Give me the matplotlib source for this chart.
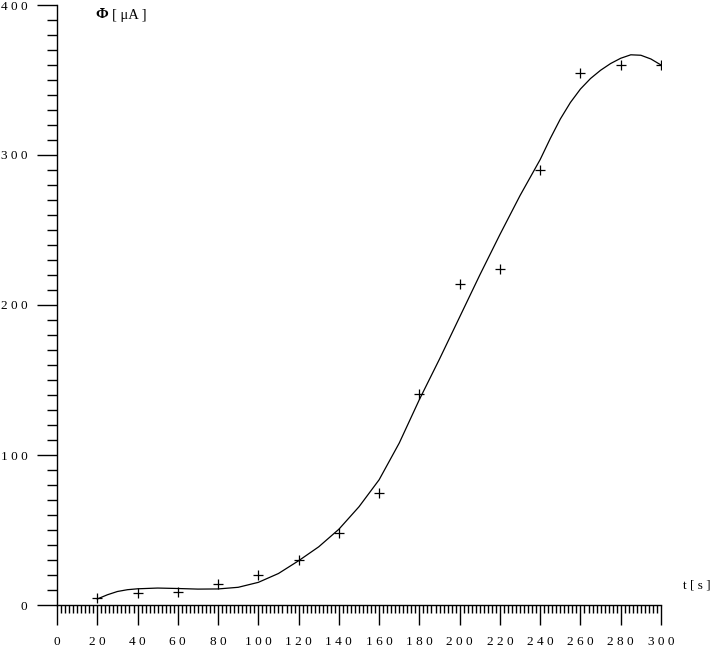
import matplotlib
matplotlib.use("Agg")
import matplotlib.pyplot as plt
from matplotlib.ticker import MultipleLocator, FuncFormatter

# measured points
t_meas = [20, 40, 60, 80, 100, 120, 140, 160, 180, 200, 220, 240, 260, 280, 300]
phi_meas = [5, 8, 9, 14, 20, 30, 48, 75, 141, 214, 224, 290, 355, 360, 360]

# fitted curve
t_fit = [20, 25, 30, 35, 40, 50, 60, 70, 80, 90, 100, 110, 120, 130, 140, 150, 160,
         170, 180, 190, 200, 210, 220, 230, 240, 245, 250, 255, 260, 265, 270, 275,
         280, 285, 290, 295, 300]
phi_fit = [4, 6.8, 9, 10.2, 10.8, 11.3, 11, 10.6, 10.7, 11.8, 15.1, 21, 29.5, 38.8, 50.5,
           65.5, 83.5, 108, 137, 164, 192, 220, 247, 273, 297, 311, 324, 335, 344, 351,
           356.5, 361, 364.5, 366.8, 366.5, 364, 360]

FONT = "Liberation Serif"
FS = 9.5

fig = plt.figure(figsize=(7.13, 6.61), dpi=100)
ax = fig.add_axes([57 / 713, 1 - 605 / 661, (661 - 57) / 713, 600 / 661])

ax.plot(t_fit, phi_fit, color="black", lw=0.9)
ax.plot(t_meas, phi_meas, "+", color="black", ms=7, mew=0.9)

ax.set_xlim(0, 300)
ax.set_ylim(0, 400)

for s in ["top", "right"]:
    ax.spines[s].set_visible(False)
for s in ["left", "bottom"]:
    ax.spines[s].set_linewidth(1.0)

spaced = FuncFormatter(lambda v, pos: " ".join(str(int(round(v)))))

ax.xaxis.set_major_locator(MultipleLocator(20))
ax.xaxis.set_minor_locator(MultipleLocator(2))
ax.yaxis.set_major_locator(MultipleLocator(100))
ax.yaxis.set_minor_locator(MultipleLocator(10))
ax.xaxis.set_major_formatter(spaced)
ax.yaxis.set_major_formatter(spaced)

ax.tick_params(axis="x", which="major", direction="out", length=14.4, width=1.0, pad=8)
ax.tick_params(axis="x", which="minor", direction="out", length=6.0, width=1.0)
ax.tick_params(axis="y", which="major", direction="out", length=14.4, width=1.0, pad=7)
ax.tick_params(axis="y", which="minor", direction="out", length=7.2, width=1.0)

for lab in ax.get_xticklabels() + ax.get_yticklabels():
    lab.set_fontfamily(FONT)
    lab.set_fontsize(FS)

fig.text(95 / 713, 1 - 15 / 661, "Φ", fontfamily=FONT, fontweight="bold",
         fontsize=11, ha="left", va="center")
fig.text(112 / 713, 1 - 15 / 661, "[ μA ]", fontfamily=FONT,
         fontsize=10.5, ha="left", va="center")
fig.text(683 / 713, 1 - 585 / 661, "t [ s ]", fontfamily=FONT,
         fontsize=FS, ha="left", va="center")

fig.savefig("out.png", dpi=100)
